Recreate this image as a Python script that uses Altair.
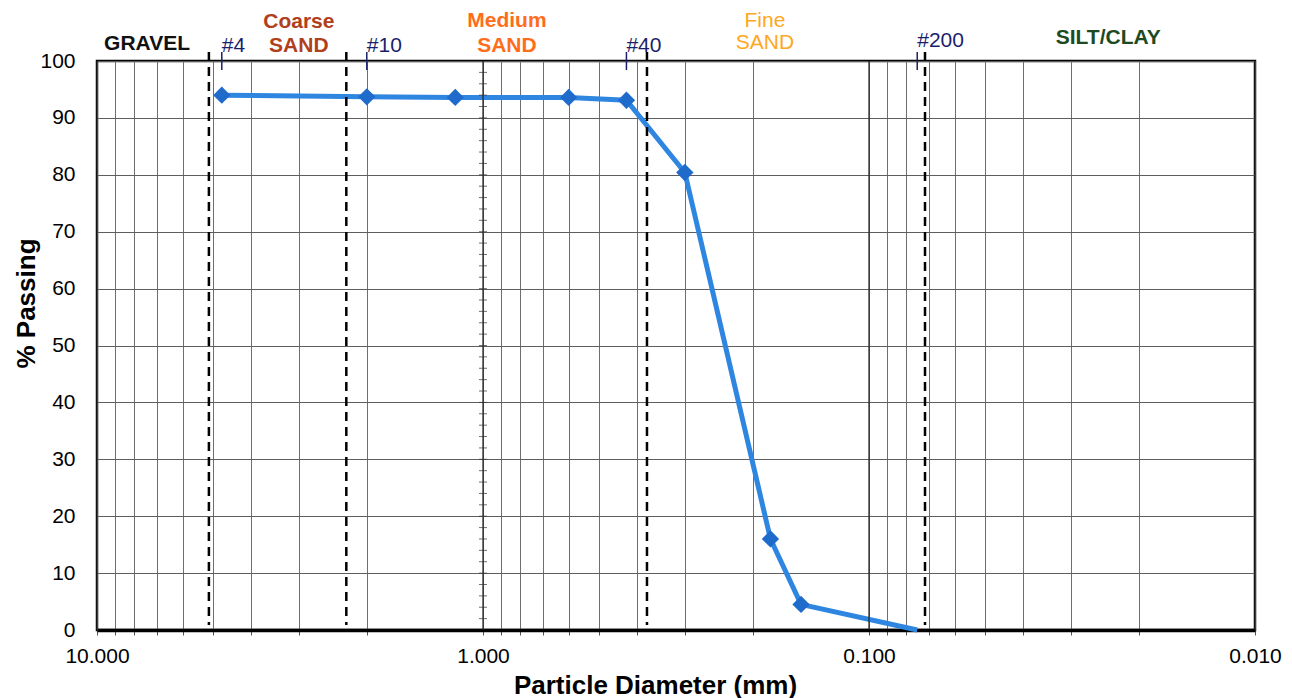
import altair as alt
import pandas as pd

# ---- data ----
diam = [4.75, 2.0, 1.18, 0.6, 0.425, 0.3, 0.18, 0.15, 0.075]
pct = [94.0, 93.7, 93.6, 93.6, 93.1, 80.4, 16.0, 4.5, 0.0]
bounds = [5.13, 2.26, 0.376, 0.0716]
sieve_names = ["#4", "#10", "#40", "#200"]
sieve_sizes = [4.75, 2.0, 0.425, 0.075]
zone_names = ["GRAVEL", "Coarse\nSAND", "Medium\nSAND", "Fine\nSAND", "SILT/CLAY"]
zone_x = [7.42, 3.0, 0.867, 0.186, 0.024]
x_ticks = [10.0, 1.0, 0.1, 0.01]
y_ticks = [0, 10, 20, 30, 40, 50, 60, 70, 80, 90, 100]
decades = [-2, -1, 0]
multiples = [1, 2, 3, 4, 5, 6, 7, 8, 9]
minor_y = list(range(2, 100, 2))

# ---- styles ----
zone_colors = ["#111111", "#B0401C", "#FF6D1A", "#FFA722", "#1D4A22"]
zone_weights = ["bold", "bold", "bold", "normal", "bold"]
zone_top = [-7, -29, -30, -30, -13]
zone_lh = [24, 24, 25, 22, 24]
sieve_bottom = [-5, -5, -5, -10]
FONT = "Liberation Sans, Arial, sans-serif"
NAVY = "#1B1F6B"

grid_vals = sorted({round(m * 10.0 ** e, 6) for e in decades for m in multiples} | {10.0})
decade_test = "abs(log(datum.value)/LN10 - round(log(datum.value)/LN10)) < 0.001"

df = pd.DataFrame({"d": diam, "p": pct})
xs = alt.Scale(type="log", domain=[0.01, 10], reverse=True)
ys = alt.Scale(domain=[0, 100])

x_axis = alt.Axis(
    values=grid_vals,
    labelExpr=f"({decade_test}) ? format(datum.value, '.3f') : ''",
    grid=True, gridColor="#6e6e6e", gridWidth=1,
    ticks=True, tickSize=5, tickColor="#555555",
    domainColor="black", domainWidth=3.5,
    labelFont=FONT, labelFontSize=21, labelColor="black", labelPadding=10,
    labelFlush=False, labelOverlap=False, labelBound=False,
    title="Particle Diameter (mm)", titleFont=FONT, titleFontSize=26,
    titleFontWeight="bold", titleColor="black",
    titleX=558, titleY=63, titleBaseline="alphabetic", titleAlign="center",
)
y_axis = alt.Axis(
    values=y_ticks, grid=True, gridColor="#5e5e5e", gridWidth=1,
    ticks=True, tickSize=0, domain=False,
    labelFont=FONT, labelFontSize=21, labelColor="black", labelPadding=22,
    title="% Passing", titleFont=FONT, titleFontSize=26, titleFontWeight="bold",
    titleColor="black", titleAngle=270, titleX=-63, titleY=242,
    titleAlign="center", titleBaseline="alphabetic",
)
TX = "Particle Diameter (mm)"
TY = "% Passing"


def X(field):
    return alt.X(field, scale=xs, axis=x_axis, title=TX)


def Y(field):
    return alt.Y(field, scale=ys, axis=y_axis, title=TY)


line = alt.Chart(df).mark_line(color="#2F86E0", strokeWidth=5).encode(
    x=X("d:Q"), y=Y("p:Q"),
)
decade_rules = alt.Chart(pd.DataFrame({"v": x_ticks})).mark_rule(
    color="#1e1e1e", strokeWidth=1.2
).encode(x=X("v:Q"))

minor_ticks = alt.Chart(pd.DataFrame({"m": minor_y, "v": [1.0] * len(minor_y)})).mark_tick(
    orient="horizontal", size=8, thickness=1, color="#333333"
).encode(x=X("v:Q"), y=Y("m:Q"))

points = alt.Chart(df).transform_filter("datum.p > 0").mark_point(
    shape="diamond", filled=True, size=300, color="#1F6BCC", opacity=1
).encode(x=X("d:Q"), y=Y("p:Q"))

dashes = alt.Chart(pd.DataFrame({"b": bounds})).mark_rule(
    color="black", strokeWidth=2.5, strokeDash=[9, 6]
).encode(x=X("b:Q"), y=alt.value(-9), y2=alt.value(564))

sieve_df = pd.DataFrame({"s": sieve_sizes, "t": sieve_names})
sieve_ticks = alt.Chart(sieve_df).mark_rule(color=NAVY, strokeWidth=1.5).encode(
    x=X("s:Q"), y=alt.value(-9), y2=alt.value(9),
)
sieve_layers = []
for s, t, yb in zip(sieve_sizes, sieve_names, sieve_bottom):
    sieve_layers.append(
        alt.Chart(pd.DataFrame({"s": [s], "t": [t]})).mark_text(
            font=FONT, fontSize=21, color=NAVY, align="left", baseline="bottom"
        ).encode(x=X("s:Q"), y=alt.value(yb), text="t:N")
    )

zone_layers = []
for name, xv, col, wt, yt, lh in zip(zone_names, zone_x, zone_colors, zone_weights, zone_top, zone_lh):
    zone_layers.append(
        alt.Chart(pd.DataFrame({"x": [xv], "t": [name]})).mark_text(
            font=FONT, fontSize=21, fontWeight=wt, color=col, align="center",
            baseline="bottom", lineBreak="\n", lineHeight=lh,
        ).encode(x=X("x:Q"), y=alt.value(yt), text="t:N")
    )

chart = alt.layer(
    line, decade_rules, minor_ticks, dashes, sieve_ticks, points, *sieve_layers, *zone_layers
).properties(
    width=1158, height=569,
    padding={"left": 89, "top": 53, "right": 29, "bottom": 68},
    autosize=alt.AutoSizeParams(type="none"),
    background="white",
).configure_view(stroke="black", strokeWidth=2.5)

chart.save("out.html", embed_options={"renderer": "svg", "actions": False})
